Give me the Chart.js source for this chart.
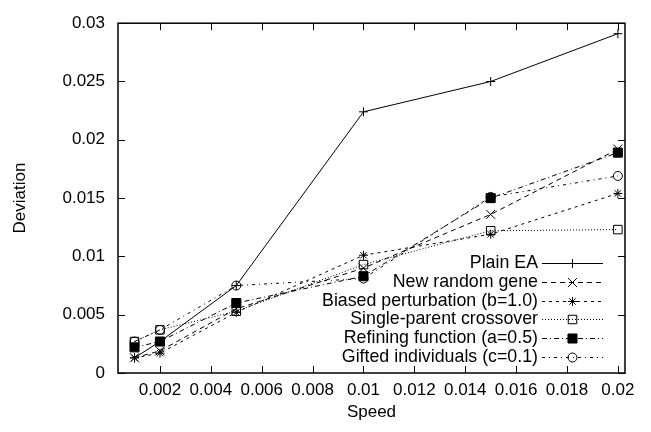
<!DOCTYPE html>
<html>
<head>
<meta charset="utf-8">
<script src="https://cdn.jsdelivr.net/npm/chart.js@4/dist/chart.umd.min.js"></script>
<style>
  html, body { margin: 0; padding: 0; background: #fff; }
  canvas { display: block; }
</style>
</head>
<body>
<canvas id="myChart" width="651" height="432"></canvas>
<script>
// values
var speeds = [0.001, 0.002, 0.005, 0.01, 0.015, 0.02];
var plainEA = [0.0013, 0.0027, 0.0075, 0.0224, 0.0250, 0.0291];
var newRandomGene = [0.0013, 0.0019, 0.0055, 0.0090, 0.0136, 0.0192];
var biasedPerturbation = [0.0013, 0.0017, 0.0052, 0.0101, 0.0119, 0.0154];
var singleParent = [0.0027, 0.0037, 0.0053, 0.0093, 0.0122, 0.0123];
var refiningFunction = [0.0022, 0.0027, 0.0060, 0.0083, 0.0150, 0.0189];
var giftedIndividuals = [0.0027, 0.0037, 0.0075, 0.0081, 0.0151, 0.0169];

var xTickValues = [0.002, 0.004, 0.006, 0.008, 0.01, 0.012, 0.014, 0.016, 0.018, 0.02];
var yTickValues = [0, 0.005, 0.01, 0.015, 0.02, 0.025, 0.03];

const toPoints = values => speeds.map((s, i) => ({ x: s, y: values[i] }));
const fmt = v => String(+(+v).toFixed(4));

Chart.defaults.font.family = '"Liberation Sans", Arial, sans-serif';
Chart.defaults.font.size = 17;
Chart.defaults.color = '#000';

const line = (label, values, pointStyle, radius, bg, dash) => ({
  label: label,
  data: toPoints(values),
  borderColor: '#000',
  borderWidth: 1,
  borderDash: dash,
  pointStyle: pointStyle,
  pointRadius: radius,
  pointBorderColor: '#000',
  pointBackgroundColor: bg,
  pointBorderWidth: 1,
  tension: 0,
  fill: false
});

// inward ticks on all four sides, the frame, and a gnuplot style key
var framePlugin = {
  id: 'frame',
  afterDatasetsDraw: function (chart) {
    var ctx = chart.ctx, a = chart.chartArea;
    var xs = chart.scales.x, ys = chart.scales.y;
    ctx.save();
    ctx.strokeStyle = '#000';
    ctx.setLineDash([]);
    ctx.lineWidth = 1;
    ctx.beginPath();
    xTickValues.forEach(v => {
      var px = Math.round(xs.getPixelForValue(v)) + 0.5;
      ctx.moveTo(px, a.bottom); ctx.lineTo(px, a.bottom - 7);
      ctx.moveTo(px, a.top); ctx.lineTo(px, a.top + 7);
    });
    yTickValues.forEach(v => {
      var py = Math.round(ys.getPixelForValue(v)) + 0.5;
      ctx.moveTo(a.left, py); ctx.lineTo(a.left + 7, py);
      ctx.moveTo(a.right, py); ctx.lineTo(a.right - 7, py);
    });
    ctx.stroke();
    ctx.lineWidth = 1.5;
    ctx.strokeRect(a.left, a.top, a.right - a.left, a.bottom - a.top);

    // key
    var textRight = 538, x0 = 542, x1 = 603, y0 = 263, dy = 18.8;
    ctx.font = '17.8px "Liberation Sans", Arial, sans-serif';
    ctx.textAlign = 'right';
    ctx.textBaseline = 'middle';
    ctx.fillStyle = '#000';
    chart.data.datasets.forEach((ds, i) => {
      var y = Math.round(y0 + i * dy) + 0.5;
      ctx.fillText(ds.label, textRight, y);
      ctx.lineWidth = 1;
      ctx.setLineDash(ds.borderDash || []);
      ctx.beginPath();
      ctx.moveTo(x0, y); ctx.lineTo(x1, y);
      ctx.stroke();
      ctx.setLineDash([]);
      ctx.fillStyle = ds.pointBackgroundColor;
      ctx.strokeStyle = '#000';
      Chart.helpers.drawPoint(ctx, { pointStyle: ds.pointStyle, radius: ds.pointRadius, rotation: 0, borderWidth: 1 }, (x0 + x1) / 2, y);
      ctx.fillStyle = '#000';
    });
    ctx.restore();
  }
};

var ctx = document.getElementById('myChart').getContext('2d');
var chart = new Chart(ctx, {
  type: 'line',
  data: {
    datasets: [
      line('Plain EA', plainEA, 'cross', 4.5, 'transparent', []),
      line('New random gene', newRandomGene, 'crossRot', 6.4, 'transparent', [5, 4]),
      line('Biased perturbation (b=1.0)', biasedPerturbation, 'star', 4.5, 'transparent', [3, 4]),
      line('Single-parent crossover', singleParent, 'rect', 6, 'transparent', [1, 2]),
      line('Refining function (a=0.5)', refiningFunction, 'rect', 6.4, '#000', [5, 3, 1, 3]),
      line('Gifted individuals (c=0.1)', giftedIndividuals, 'circle', 4.5, 'transparent', [3, 4, 1, 4])
    ]
  },
  plugins: [framePlugin],
  options: {
    responsive: false,
    animation: false,
    layout: { padding: { left: 0, right: 26, top: 19, bottom: 0 } },
    plugins: { legend: { display: false }, tooltip: { enabled: false } },
    scales: {
      x: {
        type: 'linear',
        min: 0.00035,
        max: 0.02028,
        afterFit: s => { s.height = 59; },
        afterBuildTicks: s => { s.ticks = xTickValues.map(v => ({ value: v })); },
        grid: { display: false, drawTicks: false },
        border: { display: false },
        ticks: { padding: 7, maxRotation: 0, autoSkip: false, callback: fmt },
        title: { display: true, text: 'Speed', padding: { top: 2, bottom: 9 } }
      },
      y: {
        type: 'linear',
        min: 0,
        max: 0.03,
        afterFit: s => { s.width = 118; },
        afterBuildTicks: s => { s.ticks = yTickValues.map(v => ({ value: v })); },
        grid: { display: false, drawTicks: false },
        border: { display: false },
        ticks: { padding: 13, callback: fmt },
        title: { display: true, text: 'Deviation', padding: { top: 10, bottom: 0 } }
      }
    }
  }
});
</script>
</body>
</html>
